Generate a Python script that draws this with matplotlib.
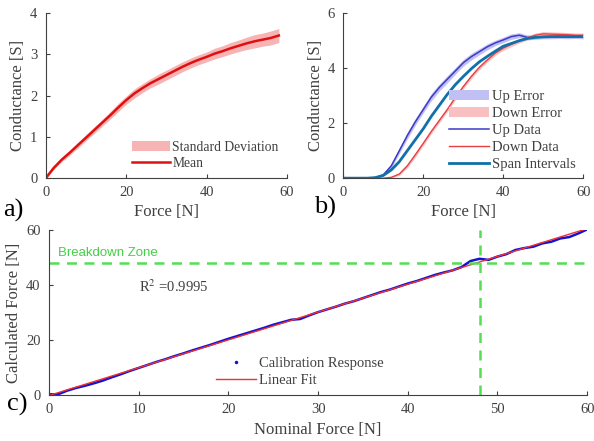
import numpy as np
import matplotlib.pyplot as plt
from matplotlib.lines import Line2D

plt.rcParams['font.family'] = 'Liberation Serif'
plt.rcParams['font.size'] = 10.5

# panel a: conductance vs force (mean and std)
force_a = [0, 2, 4, 6, 8, 10, 12, 14, 16, 18, 20, 22, 24, 26, 28, 30,
           32, 34, 36, 38, 40, 42, 44, 46, 48, 50, 52, 54, 56, 58]
mean_a = [0, 0.25, 0.45, 0.62, 0.8, 0.98, 1.16, 1.34, 1.52, 1.71, 1.89, 2.05,
          2.18, 2.3, 2.4, 2.5, 2.6, 2.7, 2.79, 2.87, 2.94, 3.02, 3.08, 3.15,
          3.21, 3.27, 3.32, 3.36, 3.4, 3.46]
std_a = [0.02, 0.04, 0.05, 0.06, 0.07, 0.07, 0.08, 0.08, 0.09, 0.1, 0.1,
         0.11, 0.11, 0.11, 0.12, 0.12, 0.12, 0.12, 0.12, 0.12, 0.12, 0.13,
         0.13, 0.14, 0.14, 0.15, 0.16, 0.16, 0.17, 0.17]

# panel b: loading / unloading
force_b = list(range(0, 62, 2))
up_b = [0, 0, 0, 0, 0.02, 0.12, 0.45, 1.0, 1.55, 2.05, 2.5, 2.95, 3.3, 3.6,
        3.9, 4.2, 4.42, 4.6, 4.78, 4.92, 5.03, 5.15, 5.2, 5.12, 5.13, 5.15,
        5.15, 5.16, 5.15, 5.16, 5.15]
up_err = [0, 0, 0, 0, 0.01, 0.04, 0.08, 0.1, 0.12, 0.12, 0.12, 0.13, 0.13,
          0.13, 0.12, 0.12, 0.12, 0.11, 0.11, 0.1, 0.1, 0.1, 0.09, 0.09,
          0.08, 0.08, 0.08, 0.08, 0.08, 0.08, 0.08]
down_b = [0, 0, 0, 0, 0, 0, 0.03, 0.15, 0.45, 0.85, 1.27, 1.7, 2.1, 2.5,
          2.93, 3.33, 3.7, 4.03, 4.3, 4.55, 4.73, 4.87, 5.0, 5.1, 5.2, 5.25,
          5.24, 5.23, 5.22, 5.2, 5.2]
down_err = [0, 0, 0, 0, 0, 0, 0.02, 0.05, 0.07, 0.08, 0.08, 0.08, 0.08,
            0.08, 0.08, 0.08, 0.08, 0.08, 0.08, 0.08, 0.08, 0.08, 0.08,
            0.08, 0.08, 0.08, 0.08, 0.08, 0.08, 0.08, 0.08]
span_b = [0, 0, 0, 0, 0.02, 0.1, 0.3, 0.6, 1.0, 1.4, 1.8, 2.25, 2.65, 3.05,
          3.4, 3.7, 3.98, 4.23, 4.43, 4.62, 4.8, 4.9, 5.0, 5.08, 5.12, 5.14,
          5.15, 5.15, 5.15, 5.15, 5.15]

# panel c: calibration
nominal = list(range(0, 61))
calc = [0.3, 0.3, 1.6, 2.6, 3.4, 4.3, 5.3, 6.5, 7.6, 8.8, 9.9, 11.0, 12.1,
        13.1, 14.2, 15.2, 16.3, 17.3, 18.3, 19.4, 20.5, 21.5, 22.5, 23.5,
        24.5, 25.6, 26.5, 27.4, 27.7, 29.0, 30.2, 31.2, 32.2, 33.3, 34.2,
        35.3, 36.4, 37.5, 38.4, 39.5, 40.6, 41.5, 42.6, 43.7, 44.6, 45.4,
        46.6, 48.8, 49.6, 49.2, 50.4, 51.3, 52.8, 53.5, 54.0, 55.2, 55.8,
        57.0, 57.5, 58.8, 60.3]
breakdown = 48

gray = '#404040'

def style(ax):
    for s in ['top', 'right']:
        ax.spines[s].set_visible(False)
    for s in ['left', 'bottom']:
        ax.spines[s].set_color(gray)
    ax.tick_params(direction='in', length=3, colors=gray, labelcolor=gray,
                   labelsize=10.5, pad=6)

leg_kw = dict(frameon=False, handlelength=2.75,
              handletextpad=0.2, labelspacing=0.25, labelcolor=gray)

fig = plt.figure(figsize=(5.94, 4.41), dpi=100)

# a)
ax1 = fig.add_axes([0.077, 0.596, 0.406, 0.374])
fa = np.array(force_a)
ma = np.array(mean_a)
sa = np.array(std_a)
ax1.fill_between(fa, ma - sa, ma + sa, color='#f7b4b4', lw=0,
                 label='Standard Deviation')
ax1.plot(fa, ma, color='#e01010', lw=1.8, label='Mean')
ax1.set_xlim(0, 60)
ax1.set_ylim(0, 4)
ax1.set_xticks([0, 20, 40, 60])
ax1.set_yticks([0, 1, 2, 3, 4])
ax1.set_xlabel('Force [N]', fontsize=12, color=gray, labelpad=3)
ax1.set_ylabel('Conductance [S]', fontsize=12, color=gray, labelpad=3)
style(ax1)
ax1.legend(loc='lower right', borderaxespad=0.2, fontsize=9.8,
           **leg_kw)

# b)
ax2 = fig.add_axes([0.578, 0.596, 0.404, 0.374])
fb = np.array(force_b)
ub = np.array(up_b)
db = np.array(down_b)
ax2.fill_between(fb, ub - np.array(up_err), ub + np.array(up_err),
                 color='#c0c0f4', lw=0, label='Up Error')
ax2.fill_between(fb, db - np.array(down_err), db + np.array(down_err),
                 color='#f8c0c0', lw=0, label='Down Error')
ax2.plot(fb, ub, color='#3a3ac8', lw=1.1, label='Up Data')
ax2.plot(fb, db, color='#e84040', lw=1.0, label='Down Data')
ax2.plot(fb, span_b, color='#1070a8', lw=2.0, label='Span Intervals')
ax2.set_xlim(0, 60)
ax2.set_ylim(0, 6)
ax2.set_xticks([0, 20, 40, 60])
ax2.set_yticks([0, 2, 4, 6])
ax2.set_xlabel('Force [N]', fontsize=12, color=gray, labelpad=3)
ax2.set_ylabel('Conductance [S]', fontsize=12, color=gray, labelpad=3)
style(ax2)
ax2.legend(loc='lower right', borderaxespad=0.1, fontsize=10.5,
           **leg_kw)

# c)
ax3 = fig.add_axes([0.0825, 0.104, 0.906, 0.374])
slope, icpt = np.polyfit(nominal, calc, 1)
nx = np.array(nominal)
ax3.plot(nominal, calc, color='#1414d0', lw=1.8)
ax3.plot(nx, slope * nx + icpt, color='#f03030', lw=1.0)
ax3.axhline(breakdown, color='#55dd55', lw=1.8, ls=(0, (4, 3)))
ax3.axvline(breakdown, color='#55dd55', lw=1.8, ls=(0, (4, 3)))
ax3.text(1, 50.5, 'Breakdown Zone', color='#44d044', fontsize=9.5,
         family='Liberation Sans')
ax3.text(10, 39.3, r'R$^2$ =0.9995', color=gray, fontsize=10.5, va='center',
         math_fontfamily='stix')
ax3.set_xlim(0, 60)
ax3.set_ylim(0, 60)
ax3.set_xticks(range(0, 61, 10))
ax3.set_yticks([0, 20, 40, 60])
ax3.set_xlabel('Nominal Force [N]', fontsize=12, color=gray, labelpad=4)
ax3.set_ylabel('Calculated Force [N]', fontsize=12, color=gray, labelpad=3)
style(ax3)
handles = [Line2D([], [], color='#1414d0', marker='.', ls='none', ms=3),
           Line2D([], [], color='#f03030', lw=1.0)]
ax3.legend(handles, ['Calibration Response', 'Linear Fit'],
           loc='lower left', bbox_to_anchor=(0.285, -0.03), fontsize=10.5,
           **leg_kw)

fig.text(0.006, 0.508, 'a)', fontsize=19)
fig.text(0.528, 0.515, 'b)', fontsize=19)
fig.text(0.012, 0.068, 'c)', fontsize=19)

fig.savefig('out.png', dpi=100)
